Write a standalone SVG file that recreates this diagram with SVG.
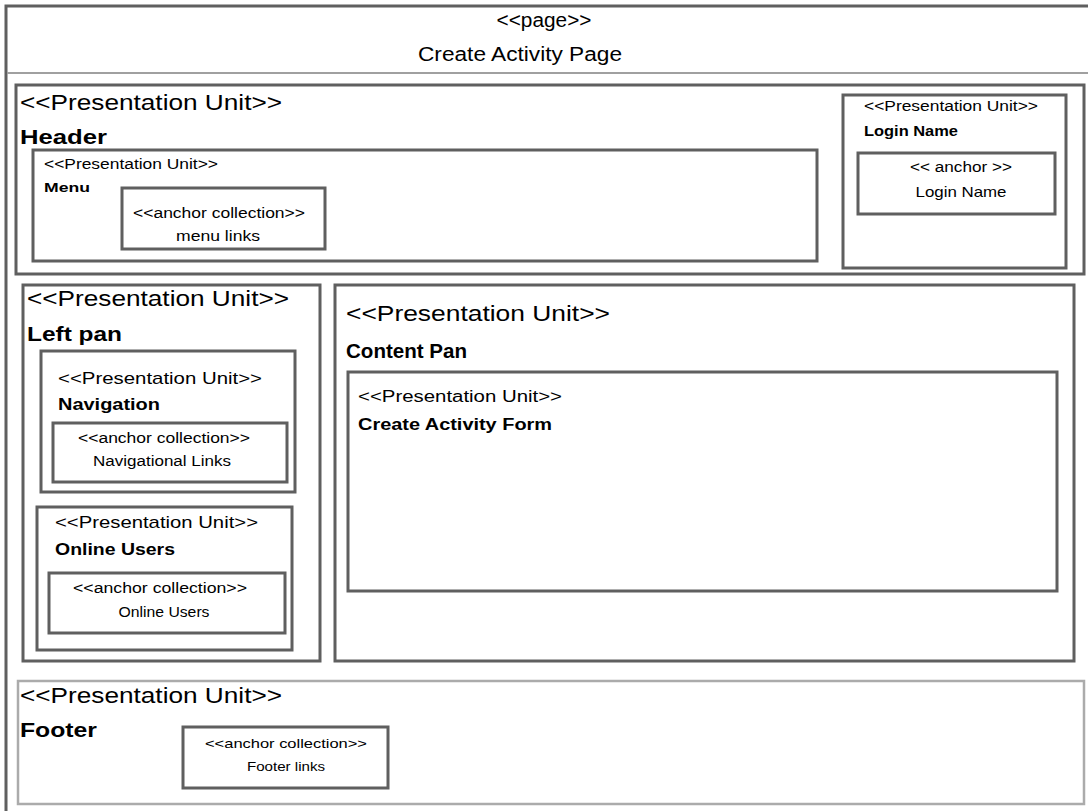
<svg xmlns="http://www.w3.org/2000/svg" width="1088" height="811" viewBox="0 0 1088 811">
<style>
.b{fill:none;stroke:#5f5f5f;stroke-width:3}
.f{fill:none;stroke:#ababab;stroke-width:2.5}
text{font-family:"Liberation Sans",Arial,sans-serif;fill:#000}
.bd{font-weight:bold}
.c{text-anchor:middle}
</style>
<rect width="1088" height="811" fill="#fff"/>
<g id="page">
<rect class="b" x="6" y="6" width="1090" height="815"/>
<line x1="7" y1="73" x2="1088" y2="73" stroke="#a0a0a0" stroke-width="2"/>
<text x="544" y="27" font-size="20" class="c" textLength="95" lengthAdjust="spacingAndGlyphs">&lt;&lt;page&gt;&gt;</text>
<text x="520" y="61" font-size="20" class="c" textLength="204" lengthAdjust="spacingAndGlyphs">Create Activity Page</text>
</g>
<g id="header">
<rect class="b" x="16" y="85" width="1068" height="189"/>
<text x="20" y="110" font-size="22" textLength="262" lengthAdjust="spacingAndGlyphs">&lt;&lt;Presentation Unit&gt;&gt;</text>
<text x="20" y="144" font-size="21" class="bd" textLength="87" lengthAdjust="spacingAndGlyphs">Header</text>
</g>
<g id="menu">
<rect class="b" x="33" y="150" width="784" height="111"/>
<text x="44" y="169" font-size="14" textLength="174" lengthAdjust="spacingAndGlyphs">&lt;&lt;Presentation Unit&gt;&gt;</text>
<text x="44" y="192" font-size="13" class="bd" textLength="46" lengthAdjust="spacingAndGlyphs">Menu</text>
</g>
<g id="menu-links">
<rect class="b" x="122" y="188" width="203" height="61"/>
<text x="219" y="218" font-size="14" class="c" textLength="172" lengthAdjust="spacingAndGlyphs">&lt;&lt;anchor collection&gt;&gt;</text>
<text x="218" y="241" font-size="14" class="c" textLength="84" lengthAdjust="spacingAndGlyphs">menu links</text>
</g>
<g id="login-name">
<rect class="b" x="843" y="95" width="223" height="173"/>
<text x="864" y="111" font-size="14" textLength="174" lengthAdjust="spacingAndGlyphs">&lt;&lt;Presentation Unit&gt;&gt;</text>
<text x="864" y="136" font-size="14" class="bd" textLength="94" lengthAdjust="spacingAndGlyphs">Login Name</text>
</g>
<g id="login-anchor">
<rect class="b" x="858" y="153" width="197" height="61"/>
<text x="961" y="172" font-size="14" class="c" textLength="102" lengthAdjust="spacingAndGlyphs">&lt;&lt; anchor &gt;&gt;</text>
<text x="961" y="197" font-size="15" class="c" textLength="91" lengthAdjust="spacingAndGlyphs">Login Name</text>
</g>
<g id="left-pan">
<rect class="b" x="23" y="285" width="297" height="376"/>
<text x="27" y="306" font-size="22" textLength="262" lengthAdjust="spacingAndGlyphs">&lt;&lt;Presentation Unit&gt;&gt;</text>
<text x="27" y="341" font-size="21" class="bd" textLength="95" lengthAdjust="spacingAndGlyphs">Left pan</text>
</g>
<g id="navigation">
<rect class="b" x="41" y="351" width="254" height="141"/>
<text x="58" y="384" font-size="17" textLength="204" lengthAdjust="spacingAndGlyphs">&lt;&lt;Presentation Unit&gt;&gt;</text>
<text x="58" y="410" font-size="17" class="bd" textLength="102" lengthAdjust="spacingAndGlyphs">Navigation</text>
</g>
<g id="nav-links">
<rect class="b" x="53" y="423" width="234" height="59"/>
<text x="164" y="443" font-size="14" class="c" textLength="172" lengthAdjust="spacingAndGlyphs">&lt;&lt;anchor collection&gt;&gt;</text>
<text x="162" y="466" font-size="14" class="c" textLength="138" lengthAdjust="spacingAndGlyphs">Navigational Links</text>
</g>
<g id="online-users">
<rect class="b" x="37" y="507" width="255" height="143"/>
<text x="55" y="528" font-size="17" textLength="203" lengthAdjust="spacingAndGlyphs">&lt;&lt;Presentation Unit&gt;&gt;</text>
<text x="55" y="555" font-size="17" class="bd" textLength="120" lengthAdjust="spacingAndGlyphs">Online Users</text>
</g>
<g id="online-users-links">
<rect class="b" x="49" y="573" width="236" height="60"/>
<text x="160" y="593" font-size="14" class="c" textLength="174" lengthAdjust="spacingAndGlyphs">&lt;&lt;anchor collection&gt;&gt;</text>
<text x="164" y="617" font-size="14" class="c" textLength="91" lengthAdjust="spacingAndGlyphs">Online Users</text>
</g>
<g id="content-pan">
<rect class="b" x="335" y="285" width="739" height="376"/>
<text x="346" y="321" font-size="22" textLength="264" lengthAdjust="spacingAndGlyphs">&lt;&lt;Presentation Unit&gt;&gt;</text>
<text x="346" y="358" font-size="21" class="bd" textLength="121" lengthAdjust="spacingAndGlyphs">Content Pan</text>
</g>
<g id="create-activity-form">
<rect class="b" x="348" y="372" width="709" height="219"/>
<text x="358" y="402" font-size="16" textLength="204" lengthAdjust="spacingAndGlyphs">&lt;&lt;Presentation Unit&gt;&gt;</text>
<text x="358" y="430" font-size="16" class="bd" textLength="194" lengthAdjust="spacingAndGlyphs">Create Activity Form</text>
</g>
<g id="footer">
<rect class="f" x="18" y="681" width="1066" height="123"/>
<text x="20" y="703" font-size="22" textLength="262" lengthAdjust="spacingAndGlyphs">&lt;&lt;Presentation Unit&gt;&gt;</text>
<text x="20" y="737" font-size="21" class="bd" textLength="77" lengthAdjust="spacingAndGlyphs">Footer</text>
</g>
<g id="footer-links">
<rect class="b" x="183" y="727" width="205" height="61"/>
<text x="286" y="748" font-size="13" class="c" textLength="162" lengthAdjust="spacingAndGlyphs">&lt;&lt;anchor collection&gt;&gt;</text>
<text x="286" y="771" font-size="13" class="c" textLength="78" lengthAdjust="spacingAndGlyphs">Footer links</text>
</g>
<g id="connectors"></g>
</svg>
